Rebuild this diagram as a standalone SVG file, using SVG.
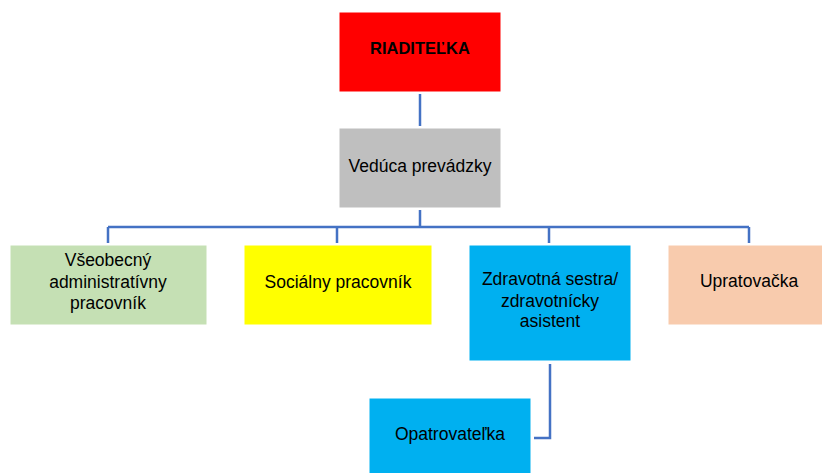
<svg xmlns="http://www.w3.org/2000/svg" width="822" height="473" viewBox="0 0 822 473">
<style>
.box{stroke:#ffffff;stroke-width:1}
.t{font-family:"Liberation Sans",Arial,sans-serif;font-size:17.5px;fill:#000;text-anchor:middle;dominant-baseline:central}
.b{font-weight:bold;font-size:16.5px}
.c{fill:none;stroke:#4472C4;stroke-width:2.5}
</style>
<rect width="822" height="473" fill="#fff"/>
<g id="connectors">
<path class="c" d="M420 94V126"/>
<path class="c" d="M420 210V227M108 227H749M108 227V243M337 227V243M549 227V243M749 227V243"/>
<path class="c" d="M550 364V438H534"/>
</g>
<g id="riaditelka">
<rect class="box" x="339" y="12" width="162" height="80" fill="#FF0000"/>
<text class="t b" x="420" y="48">RIADITEĽKA</text>
</g>
<g id="veduca">
<rect class="box" x="339" y="128" width="162" height="80" fill="#BFBFBF"/>
<text class="t" x="420" y="166">Vedúca prevádzky</text>
</g>
<g id="administrativny">
<rect class="box" x="10" y="245" width="197" height="80" fill="#C5E0B4"/>
<text class="t" x="108" y="260">Všeobecný</text>
<text class="t" x="108" y="282">administratívny</text>
<text class="t" x="108" y="303">pracovník</text>
</g>
<g id="socialny">
<rect class="box" x="244" y="245" width="188" height="80" fill="#FFFF00"/>
<text class="t" x="338" y="282">Sociálny pracovník</text>
</g>
<g id="zdravotna">
<rect class="box" x="469" y="245" width="162" height="116" fill="#00B0F0"/>
<text class="t" x="550" y="279">Zdravotná sestra/</text>
<text class="t" x="550" y="301">zdravotnícky</text>
<text class="t" x="550" y="321">asistent</text>
</g>
<g id="upratovacka">
<rect class="box" x="668" y="245" width="160" height="80" fill="#F8CBAD"/>
<text class="t" x="749" y="281">Upratovačka</text>
</g>
<g id="opatrovatelka">
<rect class="box" x="369" y="398" width="162" height="80" fill="#00B0F0"/>
<text class="t" x="450" y="434">Opatrovateľka</text>
</g>
</svg>
